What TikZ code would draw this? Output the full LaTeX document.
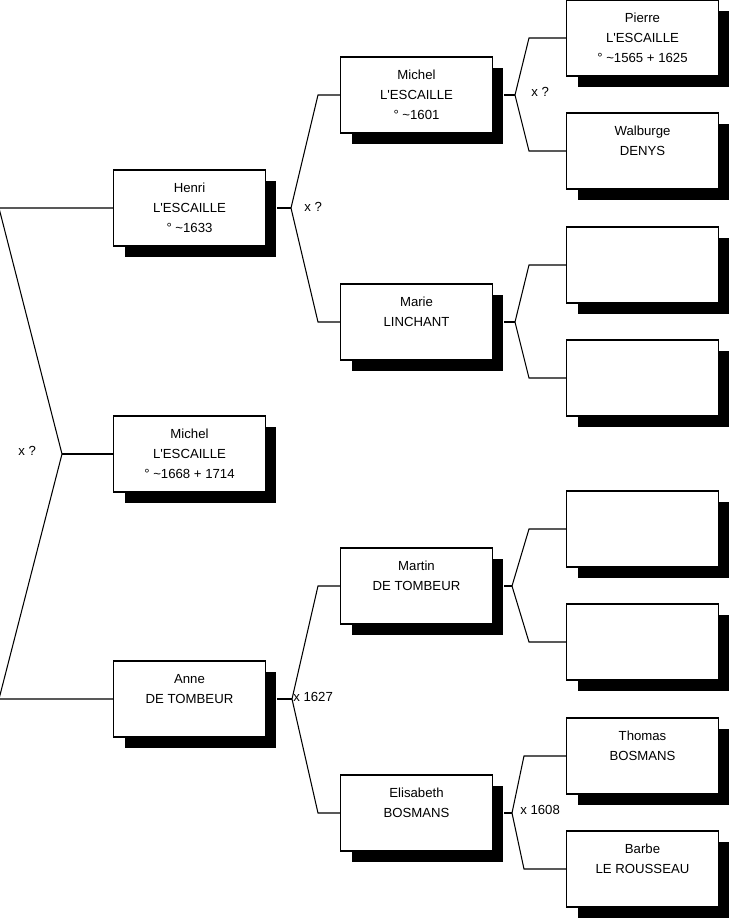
\documentclass[tikz,border=0pt]{standalone}
\usepackage{fontspec}
\setmainfont{Liberation Sans}
\usetikzlibrary{calc,shadows}

\begin{document}
\begin{tikzpicture}[
  x=0.02cm, y=-0.02cm,
  font=\fontsize{7.5}{11.3}\selectfont,
  person/.style={
    draw=black,
    fill=white,
    line width=0.6pt,
    align=center,
    minimum width=3.04cm,
    minimum height=1.52cm,
    inner sep=0pt,
    general shadow={fill=black, shadow xshift=0.22cm, shadow yshift=-0.22cm}
  },
  link/.style={
    line width=0.6pt,
    draw=black
  },
  lbl/.style={
    inner sep=0pt,
    anchor=west
  }
]
\useasboundingbox (0,0) rectangle (731,920);

% --- Generation 1 ---
\node[person] (henri) at (189.5,208) {Henri\\L\textquotesingle ESCAILLE\\° \textasciitilde1633};
\node[person] (michel) at (189.5,454) {Michel\\L\textquotesingle ESCAILLE\\° \textasciitilde1668 + 1714};
\node[person] (anne) at (189.5,699) {Anne\\DE TOMBEUR\\};

% --- Generation 2 ---
\node[person] (michelp) at (416.5,95) {Michel\\L\textquotesingle ESCAILLE\\° \textasciitilde1601};
\node[person] (marie) at (416.5,322) {Marie\\LINCHANT\\};
\node[person] (martin) at (416.5,586) {Martin\\DE TOMBEUR\\};
\node[person] (elisabeth) at (416.5,813) {Elisabeth\\BOSMANS\\};

% --- Generation 3 ---
\node[person] (pierre) at (642.5,38) {Pierre\\L\textquotesingle ESCAILLE\\° \textasciitilde1565 + 1625};
\node[person] (walburge) at (642.5,151) {Walburge\\DENYS\\};
\node[person] (blankA) at (642.5,265) {};
\node[person] (blankB) at (642.5,378) {};
\node[person] (blankC) at (642.5,529) {};
\node[person] (blankD) at (642.5,642) {};
\node[person] (thomas) at (642.5,756) {Thomas\\BOSMANS\\};
\node[person] (barbe) at (642.5,869) {Barbe\\LE ROUSSEAU\\};

% --- Forks ---
\coordinate (froot) at (62,454);
\coordinate (fhenri) at (291,208);
\coordinate (fanne) at (292,699);
\coordinate (fmichelp) at (515,95);
\coordinate (fmarie) at (515,322);
\coordinate (fmartin) at (512,586);
\coordinate (felisabeth) at (512,813);

% root couple
\draw[link] (michel.west) -- (froot);
\draw[link] (froot) -- ($(henri.west)+(-114,0)$) -- (henri.west);
\draw[link] (froot) -- ($(anne.west)+(-114,0)$) -- (anne.west);
\node[lbl] (mroot) at (18,451) {x ?};

% Henri's parents
\draw[link] ($(henri.east)+(11,0)$) -- (fhenri);
\draw[link] (fhenri) -- ($(michelp.west)+(-22,0)$) -- (michelp.west);
\draw[link] (fhenri) -- ($(marie.west)+(-22,0)$) -- (marie.west);
\node[lbl] (mhenri) at (304,207) {x ?};

% Anne's parents
\draw[link] ($(anne.east)+(11,0)$) -- (fanne);
\draw[link] (fanne) -- ($(martin.west)+(-22,0)$) -- (martin.west);
\draw[link] (fanne) -- ($(elisabeth.west)+(-22,0)$) -- (elisabeth.west);
\node[lbl] (manne) at (293,697) {x 1627};

% Michel's parents
\draw[link] ($(michelp.east)+(11,0)$) -- (fmichelp);
\draw[link] (fmichelp) -- ($(pierre.west)+(-37,0)$) -- (pierre.west);
\draw[link] (fmichelp) -- ($(walburge.west)+(-37,0)$) -- (walburge.west);
\node[lbl] (mmichelp) at (531,92) {x ?};

% Marie's parents
\draw[link] ($(marie.east)+(11,0)$) -- (fmarie);
\draw[link] (fmarie) -- ($(blankA.west)+(-37,0)$) -- (blankA.west);
\draw[link] (fmarie) -- ($(blankB.west)+(-37,0)$) -- (blankB.west);

% Martin's parents
\draw[link] ($(martin.east)+(11,0)$) -- (fmartin);
\draw[link] (fmartin) -- ($(blankC.west)+(-37,0)$) -- (blankC.west);
\draw[link] (fmartin) -- ($(blankD.west)+(-37,0)$) -- (blankD.west);

% Elisabeth's parents
\draw[link] ($(elisabeth.east)+(11,0)$) -- (felisabeth);
\draw[link] (felisabeth) -- ($(thomas.west)+(-42,0)$) -- (thomas.west);
\draw[link] (felisabeth) -- ($(barbe.west)+(-42,0)$) -- (barbe.west);
\node[lbl] (melisabeth) at (520,810) {x 1608};

\end{tikzpicture}
\end{document}
